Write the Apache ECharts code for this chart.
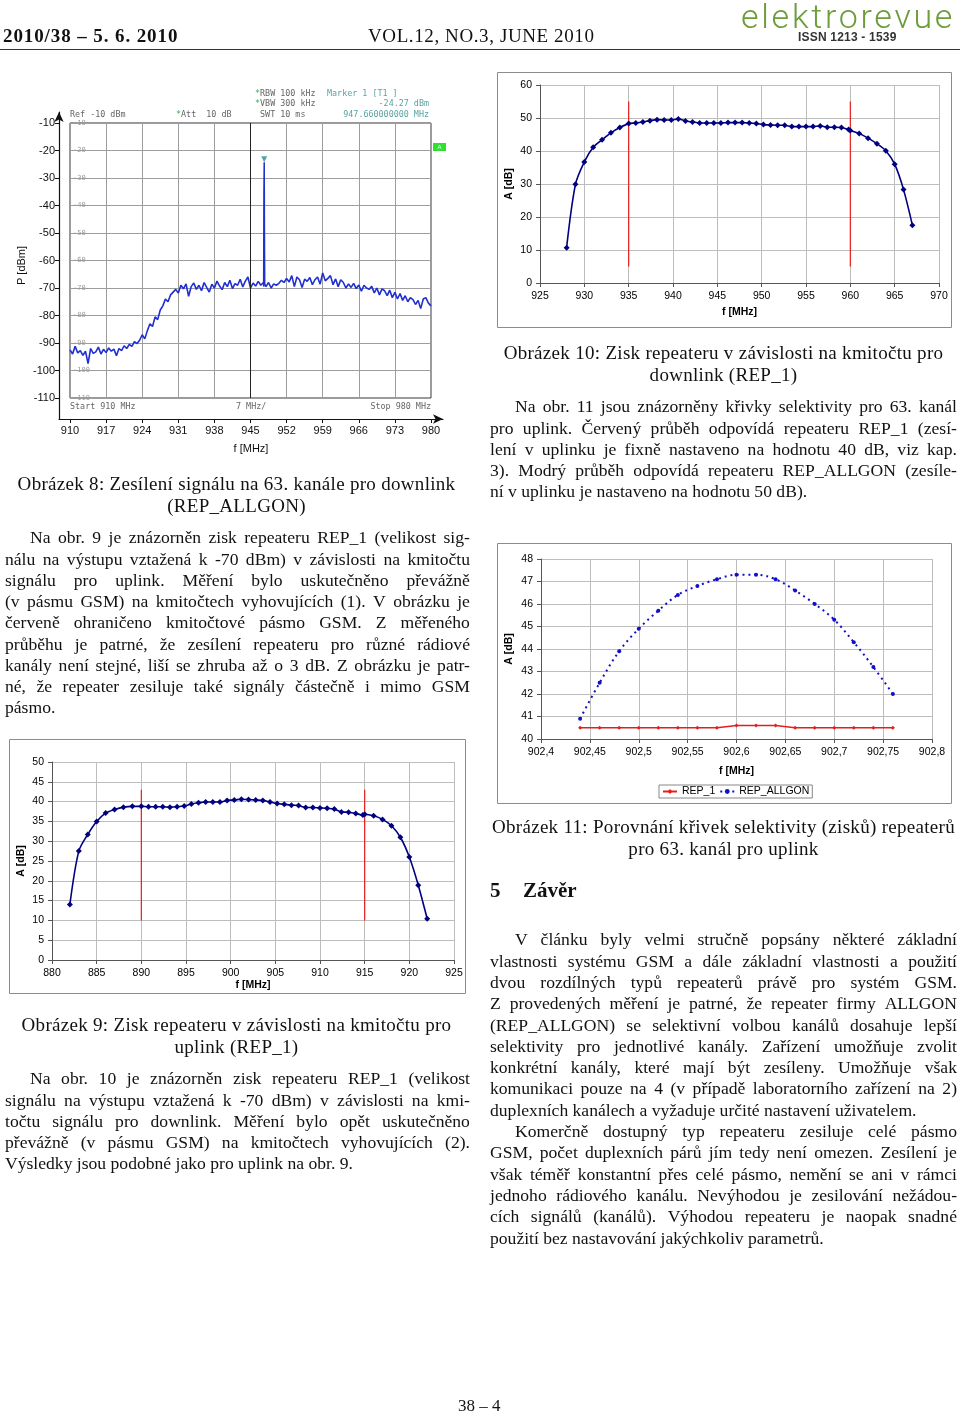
<!DOCTYPE html>
<html lang="cs">
<head>
<meta charset="UTF-8">
<title>elektrorevue 2010/38</title>
<script src="https://cdn.jsdelivr.net/npm/echarts@6/dist/echarts.min.js"></script>
<style>
html,body{margin:0;padding:0;background:#fff;}
.page{position:relative;width:960px;height:1415px;overflow:hidden;}
#chart{position:absolute;left:0;top:0;width:960px;height:1415px;}
.t{position:absolute;font-family:"Liberation Serif","Times New Roman",serif;font-size:17.6px;line-height:21.25px;color:#111;}
.t .j{display:flex;justify-content:space-between;white-space:nowrap;}
.t .l{white-space:nowrap;}
.t .i{padding-left:25px;}
.cap{position:absolute;font-family:"Liberation Serif",serif;font-size:19px;letter-spacing:0.3px;line-height:22px;text-align:center;color:#111;white-space:nowrap;}
.sa{position:absolute;font-family:"DejaVu Sans Mono",monospace;font-size:8.4px;line-height:10px;color:#666;white-space:pre;}
.sa b{color:#2bb24c;font-weight:normal;}
.sa.m{color:#5aa3a3;}
.hd{position:absolute;font-family:"Liberation Serif",serif;font-size:19px;line-height:20px;color:#111;white-space:nowrap;}
.logo{position:absolute;left:741px;top:-2px;font-family:Roboto,"DejaVu Sans",sans-serif;font-weight:300;font-size:34px;line-height:36px;color:#6d9c3a;letter-spacing:2.7px;}
.issn{position:absolute;left:798px;top:30px;font-family:"Liberation Sans",Arial,sans-serif;font-weight:bold;font-size:12px;line-height:14px;color:#333;letter-spacing:0.2px;}
.rule{position:absolute;left:0;top:49px;width:960px;height:1px;background:#333;}
.h5{position:absolute;top:878px;font-family:"Liberation Serif",serif;font-weight:bold;font-size:21px;line-height:24px;color:#111;}
</style>
</head>
<body>
<div class="page">
  <div id="chart"></div>

  <div class="hd" style="left:3px;top:26px;font-weight:bold;letter-spacing:0.9px;">2010/38 – 5. 6. 2010</div>
  <div class="hd" style="left:368px;top:26px;letter-spacing:0.6px;">VOL.12, NO.3, JUNE 2010</div>
  <div class="logo">elektrorevue</div>
  <div class="issn">ISSN 1213 - 1539</div>
  <div class="rule"></div>

  <!-- texty z displeje analyzátoru (obr. 8) -->
  <div class="sa" style="left:70px;top:109px;">Ref -10 dBm</div>
  <div class="sa" style="left:176px;top:109px;"><b>*</b>Att  10 dB</div>
  <div class="sa" style="left:255px;top:88px;"><b>*</b>RBW 100 kHz</div>
  <div class="sa" style="left:255px;top:98px;"><b>*</b>VBW 300 kHz</div>
  <div class="sa" style="left:255px;top:109px;"> SWT 10 ms</div>
  <div class="sa m" style="left:327px;top:88px;">Marker 1 [T1 ]</div>
  <div class="sa m" style="left:300px;top:98px;width:129px;text-align:right;">-24.27 dBm</div>
  <div class="sa m" style="left:300px;top:109px;width:129px;text-align:right;">947.660000000 MHz</div>
  <div class="sa" style="left:70px;top:401px;">Start 910 MHz</div>
  <div class="sa" style="left:236px;top:401px;">7 MHz/</div>
  <div class="sa" style="left:330px;top:401px;width:101px;text-align:right;">Stop 980 MHz</div>

  <div class="cap" style="left:5px;width:463px;top:473px;">Obrázek 8: Zesílení signálu na 63. kanále pro downlink<br>(REP_ALLGON)</div>

  <div class="t" style="left:5px;width:465px;top:527.4px;">
    <div class="j i">Na obr. 9 je znázorněn zisk repeateru REP_1 (velikost sig-</div>
    <div class="j">nálu na výstupu vztažená k -70 dBm) v závislosti na kmitočtu</div>
    <div class="j">signálu pro uplink. Měření bylo uskutečněno převážně</div>
    <div class="j">(v pásmu GSM) na kmitočtech vyhovujících (1). V obrázku je</div>
    <div class="j">červeně ohraničeno kmitočtové pásmo GSM. Z měřeného</div>
    <div class="j">průběhu je patrné, že zesílení repeateru pro různé rádiové</div>
    <div class="j">kanály není stejné, liší se zhruba až o 3 dB. Z obrázku je patr-</div>
    <div class="j">né, že repeater zesiluje také signály částečně i mimo GSM</div>
    <div class="l">pásmo.</div>
  </div>

  <div class="cap" style="left:5px;width:463px;top:1014px;">Obrázek 9: Zisk repeateru v závislosti na kmitočtu pro<br>uplink (REP_1)</div>

  <div class="t" style="left:5px;width:465px;top:1068.4px;">
    <div class="j i">Na obr. 10 je znázorněn zisk repeateru REP_1 (velikost</div>
    <div class="j">signálu na výstupu vztažená k -70 dBm) v závislosti na kmi-</div>
    <div class="j">točtu signálu pro downlink. Měření bylo opět uskutečněno</div>
    <div class="j">převážně (v pásmu GSM) na kmitočtech vyhovujících (2).</div>
    <div class="l">Výsledky jsou podobné jako pro uplink na obr. 9.</div>
  </div>

  <div class="cap" style="left:490px;width:467px;top:342px;">Obrázek 10: Zisk repeateru v závislosti na kmitočtu pro<br>downlink (REP_1)</div>

  <div class="t" style="left:490px;width:467px;top:396.4px;">
    <div class="j i">Na obr. 11 jsou znázorněny křivky selektivity pro 63. kanál</div>
    <div class="j">pro uplink. Červený průběh odpovídá repeateru REP_1 (zesí-</div>
    <div class="j">lení v uplinku je fixně nastaveno na hodnotu 40 dB, viz kap.</div>
    <div class="j">3). Modrý průběh odpovídá repeateru REP_ALLGON (zesíle-</div>
    <div class="l">ní v uplinku je nastaveno na hodnotu 50 dB).</div>
  </div>

  <div class="cap" style="left:490px;width:467px;top:816px;">Obrázek 11: Porovnání křivek selektivity (zisků) repeaterů<br>pro 63. kanál pro uplink</div>

  <div class="h5" style="left:490px;">5</div>
  <div class="h5" style="left:523px;">Závěr</div>

  <div class="t" style="left:490px;width:467px;top:929.4px;line-height:21.3px;">
    <div class="j i">V článku byly velmi stručně popsány některé základní</div>
    <div class="j">vlastnosti systému GSM a dále základní vlastnosti a použití</div>
    <div class="j">dvou rozdílných typů repeaterů právě pro systém GSM.</div>
    <div class="j">Z provedených měření je patrné, že repeater firmy ALLGON</div>
    <div class="j">(REP_ALLGON) se selektivní volbou kanálů dosahuje lepší</div>
    <div class="j">selektivity pro jednotlivé kanály. Zařízení umožňuje zvolit</div>
    <div class="j">konkrétní kanály, které mají být zesíleny. Umožňuje však</div>
    <div class="j">komunikaci pouze na 4 (v případě laboratorního zařízení na 2)</div>
    <div class="l">duplexních kanálech a vyžaduje určité nastavení uživatelem.</div>
    <div class="j i">Komerčně dostupný typ repeateru zesiluje celé pásmo</div>
    <div class="j">GSM, počet duplexních párů jím tedy není omezen. Zesílení je</div>
    <div class="j">však téměř konstantní přes celé pásmo, nemění se ani v rámci</div>
    <div class="j">jednoho rádiového kanálu. Nevýhodou je zesilování nežádou-</div>
    <div class="j">cích signálů (kanálů). Výhodou repeateru je naopak snadné</div>
    <div class="l">použití bez nastavování jakýchkoliv parametrů.</div>
  </div>

  <div class="hd" style="left:458px;top:1396px;font-size:17px;">38 – 4</div>
</div>

<script>
// obr. 8 - analyzátor, rozmítání 910-980 MHz po 0,5 MHz
var f8Start = 910;
var f8Step = 0.5;
var f8Trace = [
  -92.5, -94.0, -91.2, -93.6, -92.8, -94.5, -93.0, -97.5, -92.0, -93.8,
  -93.2, -91.5, -94.0, -92.3, -93.5, -91.8, -93.0, -92.2, -94.6, -92.0,
  -92.8, -91.0, -92.0, -90.5, -91.2, -89.5, -90.2, -89.0, -87.0, -88.5,
  -85.5, -83.0, -84.0, -80.5, -81.5, -78.0, -76.5, -74.0, -75.0, -72.5,
  -71.5, -70.5, -71.8, -69.0, -70.3, -68.5, -73.0, -69.5, -68.2, -70.5,
  -69.0, -71.0, -68.0, -69.8, -71.5, -68.6, -70.0, -67.5, -69.3, -70.6,
  -68.0, -69.5, -67.2, -70.2, -68.4, -69.0, -66.8, -69.6, -67.5, -66.0,
  -70.0, -68.2, -69.3, -67.6, -69.0, -68.0, -69.5, -68.0, -70.0, -68.5,
  -69.0, -68.3, -67.2, -68.0, -66.5, -67.8, -65.5, -69.5, -66.0, -67.0,
  -69.8, -66.8, -67.6, -66.2, -68.8, -67.0, -66.0, -68.6, -64.5, -67.4,
  -66.5, -65.5, -68.8, -66.7, -69.5, -67.0, -68.0, -70.0, -68.5, -69.8,
  -68.3, -70.2, -68.9, -71.2, -69.0, -70.0, -70.5, -69.4, -71.8, -70.0,
  -72.5, -70.3, -71.0, -72.8, -70.8, -73.5, -71.6, -74.0, -72.0, -74.5,
  -72.8, -75.0, -73.5, -74.2, -76.0, -74.5, -77.5, -74.0, -73.5, -75.5,
  -76.5
];
var f8Spike = [[947.55, -69.5], [947.6, -36], [947.66, -24.27], [947.7, -48], [947.76, -69]];
var f8Marker = [[947.66, -24.27]];
var f8XTicks = [910, 917, 924, 931, 938, 945, 952, 959, 966, 973, 980];
var f8YTicks = [-10, -20, -30, -40, -50, -60, -70, -80, -90, -100, -110];

// obr. 9 - REP_1 uplink
var f9Freq = [882, 883, 884, 885, 886, 887, 888, 889, 890,
  890.8, 891.6, 892.4, 893.2, 894, 894.8, 895.6, 896.4, 897.2, 898, 898.8,
  899.6, 900.4, 901.2, 902, 902.8, 903.6, 904.4, 905.2, 906, 906.8, 907.6,
  908.4, 909.2, 910, 910.8, 911.6, 912.4, 913.2, 914, 914.8,
  915, 916, 917, 918, 919, 920, 921, 922];
var f9Gain = [14.0, 27.5, 31.7, 35.0, 37.1, 38.0, 38.6, 38.8, 38.8,
  38.7, 38.7, 38.7, 38.6, 38.7, 38.9, 39.4, 39.7, 39.9, 39.9, 39.9,
  40.3, 40.4, 40.6, 40.5, 40.4, 40.3, 39.9, 39.5, 39.3, 39.1, 39.0,
  38.5, 38.5, 38.4, 38.3, 38.1, 37.4, 37.3, 37.0, 36.6,
  36.8, 36.4, 35.5, 33.9, 31.0, 26.0, 18.9, 10.4];
var f9Band = [890, 915];
var f9BandSpan = [10, 43];

// obr. 10 - REP_1 downlink
var f10Freq = [928, 929, 930, 931, 932, 933, 934,
  935, 935.8, 936.6, 937.4, 938.2, 939, 939.8, 940.6, 941.4, 942.2, 943,
  943.8, 944.6, 945.4, 946.2, 947, 947.8, 948.6, 949.4, 950.2, 951, 951.8,
  952.6, 953.4, 954.2, 955, 955.8, 956.6, 957.4, 958.2, 959, 959.8,
  960, 961, 962, 963, 964, 965, 966, 967];
var f10Gain = [10.7, 29.9, 36.7, 41.1, 43.4, 45.5, 47.1,
  48.3, 48.5, 48.8, 49.2, 49.5, 49.4, 49.4, 49.7, 49.1, 48.8, 48.5,
  48.5, 48.5, 48.5, 48.6, 48.6, 48.6, 48.5, 48.3, 48.0, 47.9, 47.8,
  47.8, 47.4, 47.4, 47.4, 47.4, 47.6, 47.2, 47.2, 47.1, 46.5,
  46.2, 45.3, 43.9, 42.2, 40.1, 36.0, 28.3, 17.5];
var f10Band = [935, 960];
var f10BandSpan = [5, 55];

// obr. 11 - selektivita, 63. kanál uplink
var f11Freq = [902.44, 902.46, 902.48, 902.50, 902.52, 902.54, 902.56, 902.58, 902.60,
  902.62, 902.64, 902.66, 902.68, 902.70, 902.72, 902.74, 902.76];
var f11Rep1 = [40.5, 40.5, 40.5, 40.5, 40.5, 40.5, 40.5, 40.5, 40.6,
  40.6, 40.6, 40.5, 40.5, 40.5, 40.5, 40.5, 40.5];
var f11Allgon = [40.9, 42.5, 43.9, 44.9, 45.7, 46.4, 46.8, 47.1, 47.3,
  47.3, 47.1, 46.6, 46.0, 45.3, 44.3, 43.2, 42.0];

// zarovnani radku do bloku
document.querySelectorAll('.t .j').forEach(function (el) {
  var words = el.textContent.trim().split(/\s+/);
  el.innerHTML = words.map(function (w) { return '<span>' + w + '</span>'; }).join('');
});

function pairs(xs, ys) {
  return xs.map(function (x, i) { return [x, ys[i]]; });
}
// cervene hranice pasma GSM jako samostatne svisle cary
function bandSeries(band, span, xi, yi) {
  return band.map(function (f, k) {
    return {
      name: 'band' + xi + '_' + k, type: 'line', xAxisIndex: xi, yAxisIndex: yi,
      data: [[f, span[0]], [f, span[1]]], showSymbol: false, silent: true, z: 2,
      lineStyle: { color: '#e81c1c', width: 1.2 }
    };
  });
}

var f8Data = f8Trace.map(function (v, i) { return [f8Start + i * f8Step, v]; });

// vnejsi osy obr. 8 jsou o kus delsi nez mrizka (sipky)
var f8Box = { left: 70, top: 123, width: 361, height: 275 };
var f8Ext = { left: 11, right: 12, top: 11, bottom: 21 };
var pxX = f8Box.width / (980 - 910);
var pxY = f8Box.height / (110 - 10);

var xlsFont = { fontFamily: 'Liberation Sans, Arial', fontSize: 10.5, color: '#000' };
var xlsName = { fontFamily: 'Liberation Sans, Arial', fontSize: 10.5, fontWeight: 'bold', color: '#000' };

function xlsX(grid, min, max, interval, gap, fmt) {
  return {
    gridIndex: grid, type: 'value', min: min, max: max, interval: interval,
    axisLine: { lineStyle: { color: '#555', width: 1 } },
    axisTick: { show: true, length: 4, lineStyle: { color: '#555' } },
    axisLabel: Object.assign({ margin: 8, formatter: fmt }, xlsFont),
    splitLine: { show: true, lineStyle: { color: '#bdbdbd', width: 1 } },
    name: 'f [MHz]', nameLocation: 'middle', nameGap: gap, nameTextStyle: xlsName
  };
}
function xlsY(grid, min, max, interval, gap) {
  return {
    gridIndex: grid, type: 'value', min: min, max: max, interval: interval,
    axisLine: { show: true, lineStyle: { color: '#555', width: 1 } },
    axisTick: { show: true, length: 4, lineStyle: { color: '#555' } },
    axisLabel: Object.assign({ margin: 8 }, xlsFont),
    splitLine: { show: true, lineStyle: { color: '#bdbdbd', width: 1 } },
    name: 'A [dB]', nameLocation: 'middle', nameGap: gap, nameRotate: 90, nameTextStyle: xlsName
  };
}

var chart = echarts.init(document.getElementById('chart'), null, { renderer: 'canvas' });

var series = [
  { name: 'spektrum', type: 'line', xAxisIndex: 0, yAxisIndex: 0, data: f8Data,
    showSymbol: false, lineStyle: { color: '#1f2fd0', width: 1.6 }, z: 3,
    markLine: { silent: true, symbol: 'none', label: { show: false },
      lineStyle: { color: '#222', width: 1, type: 'solid' }, data: [{ xAxis: 945 }] } },
  { name: 'spike', type: 'line', xAxisIndex: 0, yAxisIndex: 0, data: f8Spike,
    showSymbol: false, lineStyle: { color: '#1f2fd0', width: 1.5 }, z: 3 },
  { name: 'marker', type: 'scatter', xAxisIndex: 0, yAxisIndex: 0, data: f8Marker,
    symbol: 'triangle', symbolRotate: 180, symbolSize: 6, symbolOffset: [0, -3],
    itemStyle: { color: '#2d8c8c' }, z: 4 },

  { name: 'obr9', type: 'line', xAxisIndex: 2, yAxisIndex: 2, data: pairs(f9Freq, f9Gain),
    smooth: 0.3, symbol: 'diamond', symbolSize: 6, z: 3,
    lineStyle: { color: '#000080', width: 1.6 }, itemStyle: { color: '#000080' } },
  { name: 'obr10', type: 'line', xAxisIndex: 3, yAxisIndex: 3, data: pairs(f10Freq, f10Gain),
    smooth: 0.3, symbol: 'diamond', symbolSize: 6, z: 3,
    lineStyle: { color: '#000080', width: 1.6 }, itemStyle: { color: '#000080' } },

  { name: 'REP_1', type: 'line', xAxisIndex: 4, yAxisIndex: 4, data: pairs(f11Freq, f11Rep1),
    symbol: 'diamond', symbolSize: 4,
    lineStyle: { color: '#e02020', width: 1.6 }, itemStyle: { color: '#e02020' } },
  { name: 'REP_ALLGON', type: 'line', xAxisIndex: 4, yAxisIndex: 4, data: pairs(f11Freq, f11Allgon),
    smooth: 0.4, symbol: 'circle', symbolSize: 4,
    lineStyle: { color: '#1010c8', width: 2, type: [2, 4] }, itemStyle: { color: '#1010c8' } }
].concat(bandSeries(f9Band, f9BandSpan, 2, 2), bandSeries(f10Band, f10BandSpan, 3, 3));

chart.setOption({
  animation: false,
  grid: [
    { left: f8Box.left, top: f8Box.top, width: f8Box.width, height: f8Box.height,
      show: true, borderColor: '#333', borderWidth: 1, backgroundColor: 'transparent' },
    { left: f8Box.left - f8Ext.left, top: f8Box.top - f8Ext.top,
      width: f8Box.width + f8Ext.left + f8Ext.right, height: f8Box.height + f8Ext.top + f8Ext.bottom },
    { left: 52, top: 762, width: 402, height: 198 },
    { left: 540, top: 85, width: 399, height: 198 },
    { left: 541, top: 559, width: 391, height: 180 }
  ],
  xAxis: [
    { gridIndex: 0, type: 'value', min: 910, max: 980, interval: 7,
      axisLine: { show: false }, axisTick: { show: false }, axisLabel: { show: false },
      splitLine: { lineStyle: { color: '#9d9d9d', width: 1 } } },
    { gridIndex: 1, type: 'value',
      min: 910 - f8Ext.left / pxX, max: 980 + f8Ext.right / pxX,
      axisLine: { show: true, symbol: ['none', 'arrow'], symbolSize: [7, 10],
        lineStyle: { color: '#111', width: 1.2 } },
      axisTick: { show: true, customValues: f8XTicks, length: 4, lineStyle: { color: '#111' } },
      axisLabel: { customValues: f8XTicks, margin: 6, fontFamily: 'Liberation Sans, Arial', fontSize: 11, color: '#111' },
      splitLine: { show: false },
      name: 'f [MHz]', nameLocation: 'middle', nameGap: 24,
      nameTextStyle: { fontFamily: 'Liberation Sans, Arial', fontSize: 11, color: '#111' } },
    xlsX(2, 880, 925, 5, 18),
    xlsX(3, 925, 970, 5, 24),
    xlsX(4, 902.4, 902.8, 0.05, 27, function (v) { return String(+v.toFixed(2)).replace('.', ','); })
  ],
  yAxis: [
    { gridIndex: 0, type: 'value', min: -110, max: -10, interval: 10,
      axisLine: { show: false }, axisTick: { show: false },
      axisLabel: { inside: true, margin: 3, fontFamily: 'DejaVu Sans Mono, monospace', fontSize: 7, color: '#9a9a9a' },
      splitLine: { lineStyle: { color: '#9d9d9d', width: 1 } } },
    { gridIndex: 1, type: 'value',
      min: -110 - f8Ext.bottom / pxY, max: -10 + f8Ext.top / pxY,
      axisLine: { show: true, symbol: ['none', 'arrow'], symbolSize: [7, 10],
        lineStyle: { color: '#111', width: 1.2 } },
      axisTick: { show: true, customValues: f8YTicks, length: 4, lineStyle: { color: '#111' } },
      axisLabel: { customValues: f8YTicks, margin: 4, fontFamily: 'Liberation Sans, Arial', fontSize: 11, color: '#111' },
      splitLine: { show: false },
      name: 'P [dBm]', nameLocation: 'middle', nameGap: 32, nameRotate: 90,
      nameTextStyle: { fontFamily: 'Liberation Sans, Arial', fontSize: 11, color: '#111' } },
    xlsY(2, 0, 50, 5, 25),
    xlsY(3, 0, 60, 10, 25),
    xlsY(4, 40, 48, 1, 26)
  ],
  legend: {
    data: ['REP_1', 'REP_ALLGON'],
    left: 659, top: 785, orient: 'horizontal',
    itemWidth: 14, itemHeight: 6, itemGap: 4,
    padding: [1, 3], borderColor: '#888', borderWidth: 1,
    textStyle: { fontFamily: 'Liberation Sans, Arial', fontSize: 10.5, color: '#000' }
  },
  graphic: [
    { type: 'rect', shape: { x: 9.5, y: 739.5, width: 456, height: 254 }, style: { fill: 'none', stroke: '#8c8c8c', lineWidth: 1 } },
    { type: 'rect', shape: { x: 497.5, y: 72.5, width: 454, height: 255 }, style: { fill: 'none', stroke: '#8c8c8c', lineWidth: 1 } },
    { type: 'rect', shape: { x: 497.5, y: 543.5, width: 454, height: 260 }, style: { fill: 'none', stroke: '#8c8c8c', lineWidth: 1 } },
    { type: 'rect', shape: { x: 433, y: 143, width: 13, height: 8 }, style: { fill: '#30e030' } },
    { type: 'text', x: 439.5, y: 147, style: { text: 'A', fill: '#fff', font: '6px sans-serif', align: 'center', verticalAlign: 'middle' } }
  ],
  series: series
});
</script>
</body>
</html>
